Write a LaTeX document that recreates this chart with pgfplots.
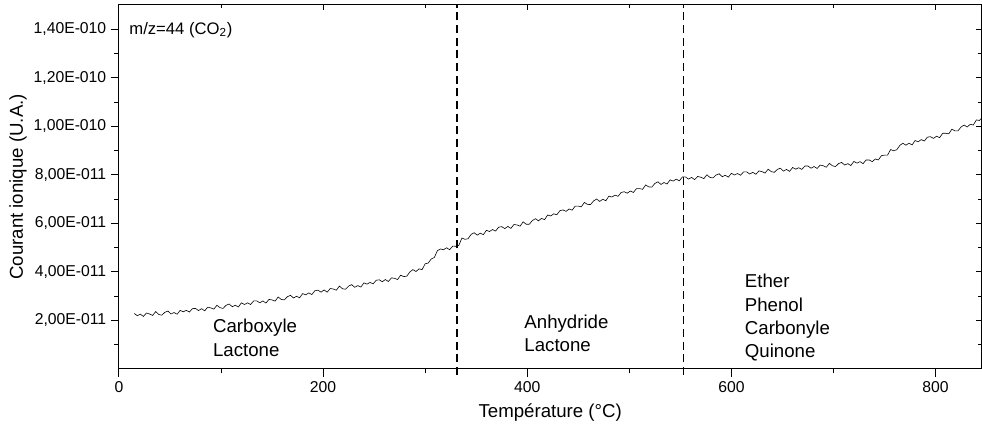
\documentclass[border=0pt]{standalone}
\usepackage{fontspec}
\setmainfont{Liberation Sans}
\usepackage{pgfplots}
\pgfplotsset{compat=1.18}

% m/z=44 signal, y in units of 1E-11
\pgfplotstableread{
T I
15 2.28
18 2.19
21 2.25
24 2.16
27 2.30
30 2.26
33 2.20
36 2.36
39 2.24
42 2.21
45 2.33
48 2.38
51 2.26
54 2.32
57 2.25
60 2.41
63 2.35
66 2.41
69 2.34
72 2.48
75 2.49
78 2.40
81 2.48
84 2.39
87 2.54
90 2.51
93 2.46
96 2.62
99 2.52
102 2.49
105 2.62
108 2.67
111 2.56
114 2.62
117 2.55
120 2.72
123 2.65
126 2.72
129 2.65
132 2.80
135 2.80
138 2.72
141 2.80
144 2.71
147 2.86
150 2.84
153 2.79
156 2.96
159 2.86
162 2.84
165 2.97
168 3.03
171 2.92
174 2.99
177 2.93
180 3.10
183 3.05
186 3.13
189 3.06
192 3.22
195 3.24
198 3.16
201 3.25
204 3.16
207 3.31
210 3.29
213 3.24
216 3.41
219 3.30
222 3.28
225 3.41
228 3.47
231 3.36
234 3.43
237 3.37
240 3.54
243 3.49
246 3.56
249 3.50
252 3.65
255 3.67
258 3.59
261 3.68
264 3.60
267 3.75
270 3.73
273 3.68
276 3.86
279 3.80
282 3.82
285 3.99
288 4.09
291 4.01
294 4.12
297 4.09
300 4.33
303 4.36
306 4.53
309 4.59
312 4.87
315 4.94
318 4.91
321 4.99
324 4.91
327 5.06
330 5.05
333 5.09
336 5.39
339 5.34
342 5.36
345 5.54
348 5.61
351 5.51
354 5.59
357 5.53
360 5.71
363 5.66
366 5.74
369 5.68
372 5.84
375 5.86
378 5.78
381 5.87
384 5.79
387 5.95
390 5.93
393 5.88
396 6.06
399 5.96
402 5.96
405 6.11
408 6.19
411 6.10
414 6.20
417 6.15
420 6.34
423 6.30
426 6.39
429 6.35
432 6.52
435 6.55
438 6.49
441 6.59
444 6.54
447 6.71
450 6.71
453 6.68
456 6.86
459 6.78
462 6.77
465 6.92
468 7.00
471 6.90
474 6.99
477 6.93
480 7.12
483 7.08
486 7.16
489 7.11
492 7.27
495 7.30
498 7.24
501 7.33
504 7.27
507 7.43
510 7.43
513 7.40
516 7.58
519 7.50
522 7.49
525 7.64
528 7.71
531 7.60
534 7.68
537 7.62
540 7.79
543 7.74
546 7.82
549 7.75
552 7.91
555 7.91
558 7.82
561 7.89
564 7.80
567 7.93
570 7.90
573 7.84
576 8.00
579 7.89
582 7.87
585 7.99
588 8.04
591 7.92
594 7.98
597 7.90
600 8.06
603 7.99
606 8.05
609 7.98
612 8.12
615 8.12
618 8.03
621 8.10
624 8.02
627 8.16
630 8.13
633 8.07
636 8.23
639 8.13
642 8.10
645 8.22
648 8.27
651 8.15
654 8.22
657 8.14
660 8.30
663 8.23
666 8.29
669 8.22
672 8.36
675 8.36
678 8.27
681 8.34
684 8.26
687 8.40
690 8.37
693 8.31
696 8.47
699 8.37
702 8.34
705 8.46
708 8.51
711 8.40
714 8.46
717 8.38
720 8.55
723 8.48
726 8.54
729 8.46
732 8.61
735 8.61
738 8.54
741 8.65
744 8.61
747 8.79
750 8.81
753 8.81
756 9.04
759 8.99
762 9.03
765 9.21
768 9.30
771 9.22
774 9.30
777 9.23
780 9.41
783 9.36
786 9.45
789 9.39
792 9.55
795 9.57
798 9.50
801 9.59
804 9.53
807 9.71
810 9.71
813 9.69
816 9.88
819 9.81
822 9.81
825 9.97
828 10.05
831 9.97
834 10.08
837 10.05
840 10.26
843 10.24
845 10.33
}\co

\begin{document}
\begin{tikzpicture}
\begin{axis}[
    name=main,
    width=647.25pt, height=273pt, scale only axis,
    xmin=0, xmax=845, ymin=0, ymax=15,
    clip=false,
    axis line style={line width=0.75pt},
    xtick={0,200,...,800}, minor xtick={100,300,500,700},
    ytick={2,4,...,14}, minor ytick={1,3,...,13},
    yticklabels={{2,00E-011},{4,00E-011},{6,00E-011},{8,00E-011},{1,00E-010},{1,20E-010},{1,40E-010}},
    xtick pos=left, ytick pos=left,
    tick align=outside,
    major tick length=6pt, minor tick length=3.5pt,
    tick style={line width=0.75pt, black},
    tick label style={font=\fontsize{11.8}{13}\selectfont},
    /pgf/number format/assume math mode=true,
    xlabel={Température (°C)},
    ylabel={Courant ionique (U.A.)},
    label style={font=\fontsize{14}{16}\selectfont},
    xlabel style={at={(axis description cs:0.5,-0.121)}, anchor=center},
    ylabel style={at={(axis description cs:-0.117,0.5)}, anchor=center},
]
\addplot[black, line width=0.45pt] table[x=T, y=I] {\co};
\addplot[black, line width=1.1pt, dash pattern=on 6pt off 3.5pt] coordinates {(331,-0.25) (331,15)};
\addplot[black, line width=1.1pt, dash pattern=on 6pt off 3.5pt] coordinates {(553,-0.25) (553,15)};
\node[anchor=north west, inner sep=0pt, font=\fontsize{12.5}{15}\selectfont] at (axis cs:10,14.3) {m/z=44 (CO\textsubscript{2})};
\node[anchor=north west, inner sep=0pt, align=left, font=\fontsize{14}{17.5}\selectfont] at (axis cs:92,2.05) {Carboxyle\\Lactone};
\node[anchor=north west, inner sep=0pt, align=left, font=\fontsize{14}{17.5}\selectfont] at (axis cs:397,2.25) {Anhydride\\Lactone};
\node[anchor=north west, inner sep=0pt, align=left, font=\fontsize{14}{17.5}\selectfont] at (axis cs:613,3.9) {Ether\\Phenol\\Carbonyle\\Quinone};
\end{axis}
\begin{axis}[
    width=647.25pt, height=273pt, scale only axis,
    xmin=0, xmax=845, ymin=0, ymax=15,
    axis line style={draw=none},
    xtick={0,200,...,800}, minor xtick={100,300,500,700},
    ytick={2,4,...,14}, minor ytick={1,3,...,13},
    xticklabels={}, yticklabels={},
    xtick pos=right, ytick pos=right,
    tick align=inside,
    major tick length=4pt, minor tick length=2.5pt,
    tick style={line width=0.75pt, black},
]
\end{axis}
\pgfresetboundingbox
\path ([xshift=-89.25pt,yshift=-48.75pt]main.south west) rectangle ([xshift=0.4pt,yshift=3.75pt]main.north east);
\end{tikzpicture}
\end{document}
